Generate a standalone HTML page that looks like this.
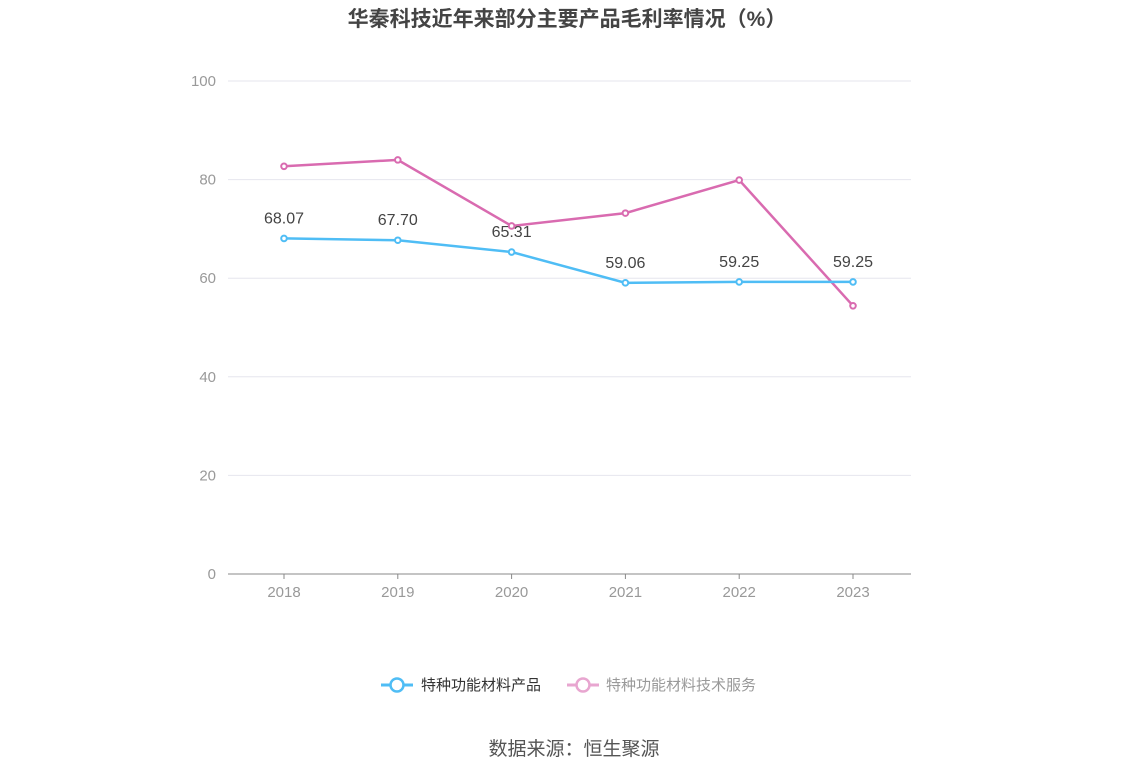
<!DOCTYPE html>
<html><head><meta charset="utf-8"><style>
body{margin:0;background:#fff;font-family:"Liberation Sans","Noto Sans CJK SC",sans-serif;}
</style></head><body>
<svg width="1148" height="776" xmlns="http://www.w3.org/2000/svg" font-family="Liberation Sans, Noto Sans CJK SC, sans-serif">
<text x="567" y="26" text-anchor="middle" font-size="21" font-weight="bold" fill="#444">华秦科技近年来部分主要产品毛利率情况（%）</text>
<g id="grid"></g><g id="series"></g>
<g>
<g>
<line x1="381" y1="685" x2="413" y2="685" stroke="#4fbdf5" stroke-width="3"/>
<circle cx="397" cy="685" r="6.5" fill="#fff" stroke="#4fbdf5" stroke-width="2.5"/>
<text x="421" y="690" font-size="15" fill="#333">特种功能材料产品</text></g>
<g>
<line x1="567" y1="685" x2="599" y2="685" stroke="#e8a6d0" stroke-width="3"/>
<circle cx="583" cy="685" r="6.5" fill="#fff" stroke="#e8a6d0" stroke-width="2.5"/>
<text x="606" y="690" font-size="15" fill="#999">特种功能材料技术服务</text></g>
</g>
<text x="574" y="755" text-anchor="middle" font-size="19" fill="#555">数据来源：恒生聚源</text>
</svg>
<script>
const years=["2018","2019","2020","2021","2022","2023"];
const productValues=[68.07,67.70,65.31,59.06,59.25,59.25];
const serviceValues=[82.7,84.0,70.6,73.2,79.9,54.4];
const yTicks=[0,20,40,60,80,100];
const NS="http://www.w3.org/2000/svg";
const x0=228,x1=911,y0=574,y1=81;
const xs=i=>284+i*(853-284)/(years.length-1);
const ys=v=>y0-(v/100)*(y0-y1);
function mk(t,a,p){const e=document.createElementNS(NS,t);for(const k in a)e.setAttribute(k,a[k]);p.appendChild(e);return e;}
const g=document.getElementById('grid'),s=document.getElementById('series');
yTicks.forEach(v=>{
 const l=mk('line',{x1:x0,x2:x1,y1:ys(v),y2:ys(v),stroke:v===0?'#888':'#e6e6ee','stroke-width':1},g);
 
 
 const t=mk('text',{x:216,y:ys(v)+5,'text-anchor':'end','font-size':15,fill:'#999'},g);t.textContent=v;
 
 
});
years.forEach((y,i)=>{
 const tk=mk('line',{x1:xs(i),x2:xs(i),y1:y0,y2:y0+5,stroke:'#888'},g);
 
 
 const t=mk('text',{x:xs(i),y:597,'text-anchor':'middle','font-size':15,fill:'#999'},g);t.textContent=y;
 
 
});
function line(vals,color,name,labels){
 const p=mk('polyline',{points:vals.map((v,i)=>xs(i)+','+ys(v)).join(' '),fill:'none',stroke:color,'stroke-width':2.5},s);
 
 
 vals.forEach((v,i)=>{
  const c=mk('circle',{cx:xs(i),cy:ys(v),r:2.8,fill:'#fff',stroke:color,'stroke-width':2},s);
  
  
  if(labels){const t=mk('text',{x:xs(i),y:ys(v)-15,'text-anchor':'middle','font-size':16,fill:'#444'},s);t.textContent=v.toFixed(2);
  
  }
 });
}
line(serviceValues,'#d96bb0','service',false);
line(productValues,'#4fbdf5','product',true);
</script>
</body></html>
